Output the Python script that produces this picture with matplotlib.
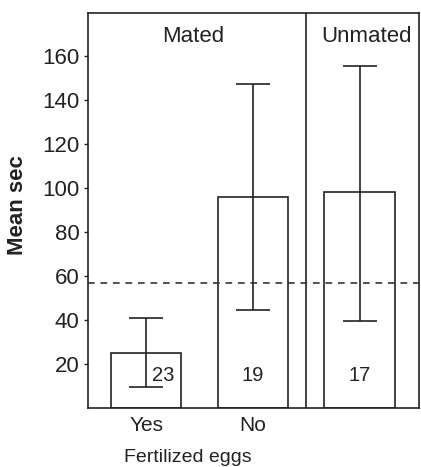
import numpy as np
import matplotlib
matplotlib.use('Agg')
import matplotlib.pyplot as plt

plt.rcParams['font.family'] = ['Liberation Sans', 'DejaVu Sans']

# data
groups   = ['Yes', 'No', '']
means    = [25, 96, 98]
err_low  = [9.5, 44.5, 39.5]
err_high = [41, 147.5, 155.5]
counts   = ['23', '19', '17']
overall_mean = 57
panel_labels = ['Mated', 'Unmated']

x = np.arange(len(means))
yerr = [np.array(means) - np.array(err_low), np.array(err_high) - np.array(means)]

fig = plt.figure(figsize=(4.21, 4.67), dpi=100)
ax = fig.add_axes([0.209, 0.126, 0.786, 0.846])

ax.bar(x, means, width=0.66, facecolor='white', edgecolor='#222222', lw=1.2, zorder=2)
ax.errorbar(x, means, yerr=yerr, fmt='none', ecolor='#222222', elinewidth=1.2,
            capsize=12.5, capthick=1.2, zorder=3)
ax.axhline(overall_mean, color='#333333', lw=1.2, ls=(0, (4, 3.5)), zorder=4)
ax.axvline(1.5, color='#222222', lw=1.2, zorder=2)

# sample sizes inside bars
offsets = [0.16, 0, 0]
for xi, c, o in zip(x, counts, offsets):
    ax.text(xi + o, 15, c, ha='center', va='center', fontsize=14.5, color='#222222')

ax.text(0.44, 169, panel_labels[0], ha='center', va='center', fontsize=16, color='#222222')
ax.text(2.07, 169, panel_labels[1], ha='center', va='center', fontsize=16, color='#222222')

ax.set_xlim(-0.547, 2.557)
ax.set_ylim(0, 179.5)
ax.set_yticks([20, 40, 60, 80, 100, 120, 140, 160])
ax.set_xticks(x[:2])
ax.set_xticklabels(groups[:2])
ax.tick_params(axis='y', labelsize=16, length=3, width=1, pad=3, colors='#222222')
ax.tick_params(axis='x', labelsize=15, length=0, pad=6, colors='#222222')
for s in ax.spines.values():
    s.set_linewidth(1.2)
    s.set_color('#222222')

ax.set_ylabel('Mean sec', fontsize=16, fontweight='bold', color='#222222')
ax.yaxis.set_label_coords(-0.18, 0.514)
fig.text(187.5 / 421, 1 - 457 / 467, 'Fertilized eggs', ha='center', va='center',
         fontsize=14, color='#222222')

fig.savefig('out.png', dpi=100)
